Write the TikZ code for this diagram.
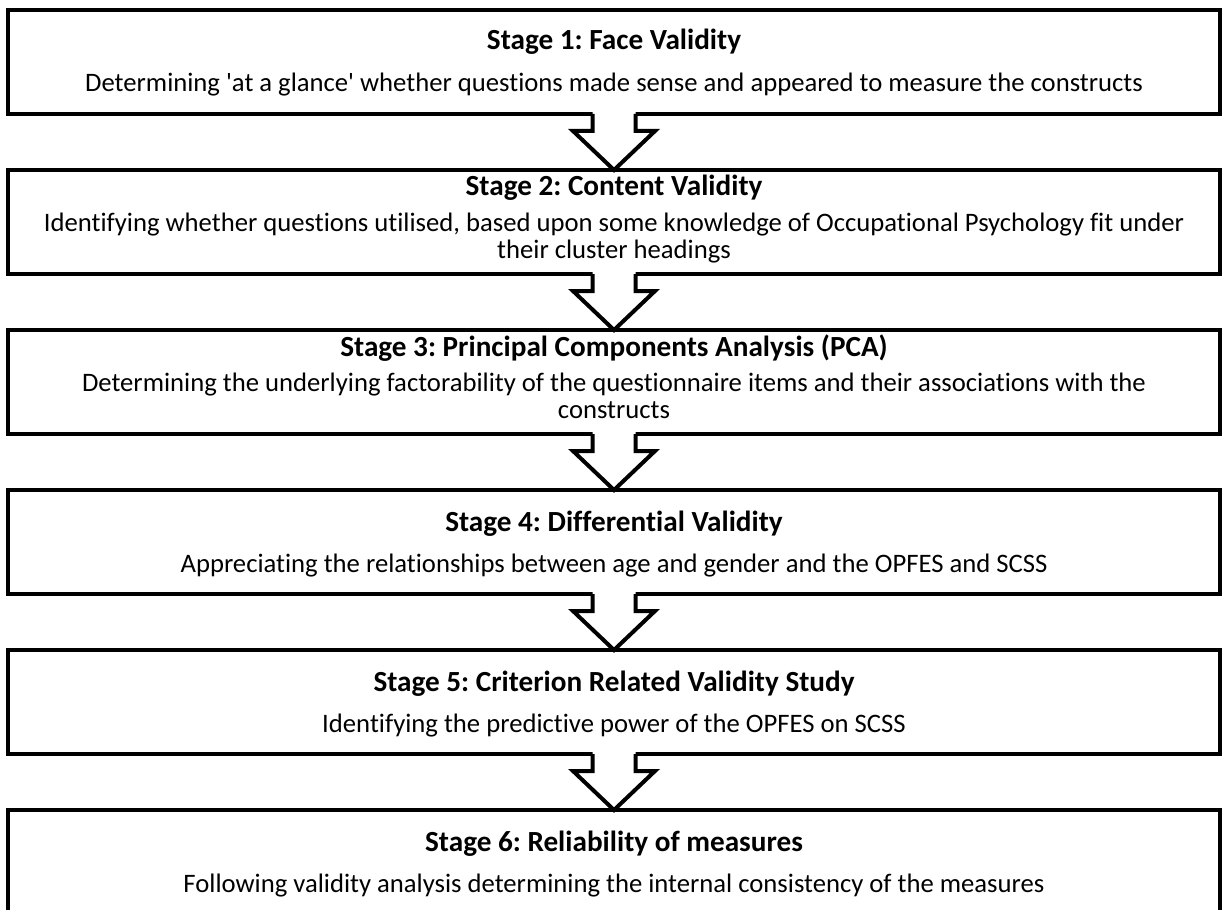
\documentclass[tikz,border=0pt]{standalone}
\usepackage{fontspec}
\setmainfont{Carlito}[Ligatures={NoCommon}]
\usetikzlibrary{calc}

\tikzset{
  stagebox/.style={draw=black, line width=3pt, fill=white, inner sep=0pt, outer sep=0pt,
                   minimum width=909pt, minimum height=78pt, anchor=north},
  title/.style={font=\fontsize{21.9}{25}\selectfont\bfseries, inner sep=0pt, anchor=base},
  body/.style={font=\fontsize{20}{20}\selectfont, inner sep=0pt, align=center, anchor=base},
  blockarrow/.style={line width=3pt, line join=miter, draw=black}
}

% Block arrow joining the bottom of one stage to the top of the next
\newcommand{\stagearrow}[2]{%
  \fill[white] ($(#1.south)+(-21.5,-3)$) -- ($(#1.south)+(-21.5,17)$) -- ($(#1.south)+(-41,17)$)
     -- (#2.north) -- ($(#1.south)+(41,17)$) -- ($(#1.south)+(21.5,17)$) -- ($(#1.south)+(21.5,-3)$) -- cycle;
  \draw[blockarrow] ($(#1.south)+(-21.5,0)$) -- ($(#1.south)+(-21.5,17)$) -- ($(#1.south)+(-41,17)$)
     -- (#2.north) -- ($(#1.south)+(41,17)$) -- ($(#1.south)+(21.5,17)$) -- ($(#1.south)+(21.5,0)$);
}

\begin{document}
\frenchspacing
\begin{tikzpicture}[x=0.75pt, y=-0.75pt]
\useasboundingbox (0,0) rectangle (1226,909);
\clip (0,0) rectangle (1226,909);

% stage boxes
\node[stagebox] (s1) at (614,10) {};
\node[stagebox] (s2) at (614,170) {};
\node[stagebox] (s3) at (614,330) {};
\node[stagebox] (s4) at (614,490) {};
\node[stagebox] (s5) at (614,650) {};
\node[stagebox] (s6) at (614,810) {};

% stage texts
\node[title] (t1) at ($(s1.north)+(0,40)$) {Stage 1: Face Validity};
\node[body] (d1) at ($(s1.north)+(0,82)$) {Determining \textquotesingle at a glance\textquotesingle{} whether questions made sense and appeared to measure the constructs};

\node[title] (t2) at ($(s2.north)+(0,26)$) {Stage 2: Content Validity};
\node[body] (d2) at ($(s2.north)+(0,61)$) {Identifying whether questions utilised, based upon some knowledge of Occupational Psychology fit under};
\node[body] (e2) at ($(s2.north)+(0,88)$) {their cluster headings};

\node[title] (t3) at ($(s3.north)+(0,26)$) {Stage 3: Principal Components Analysis (PCA)};
\node[body] (d3) at ($(s3.north)+(0,61)$) {Determining the underlying factorability of the questionnaire items and their associations with the};
\node[body] (e3) at ($(s3.north)+(0,88)$) {constructs};

\node[title] (t4) at ($(s4.north)+(0,41)$) {Stage 4: Differential Validity};
\node[body] (d4) at ($(s4.north)+(0,82)$) {Appreciating the relationships between age and gender and the OPFES and SCSS};

\node[title] (t5) at ($(s5.north)+(0,41)$) {Stage 5: Criterion Related Validity Study};
\node[body] (d5) at ($(s5.north)+(0,82)$) {Identifying the predictive power of the OPFES on SCSS};

\node[title] (t6) at ($(s6.north)+(0,41)$) {Stage 6: Reliability of measures};
\node[body] (d6) at ($(s6.north)+(0,82)$) {Following validity analysis determining the internal consistency of the measures};

% arrows between stages
\stagearrow{s1}{s2}
\stagearrow{s2}{s3}
\stagearrow{s3}{s4}
\stagearrow{s4}{s5}
\stagearrow{s5}{s6}
\end{tikzpicture}
\end{document}
